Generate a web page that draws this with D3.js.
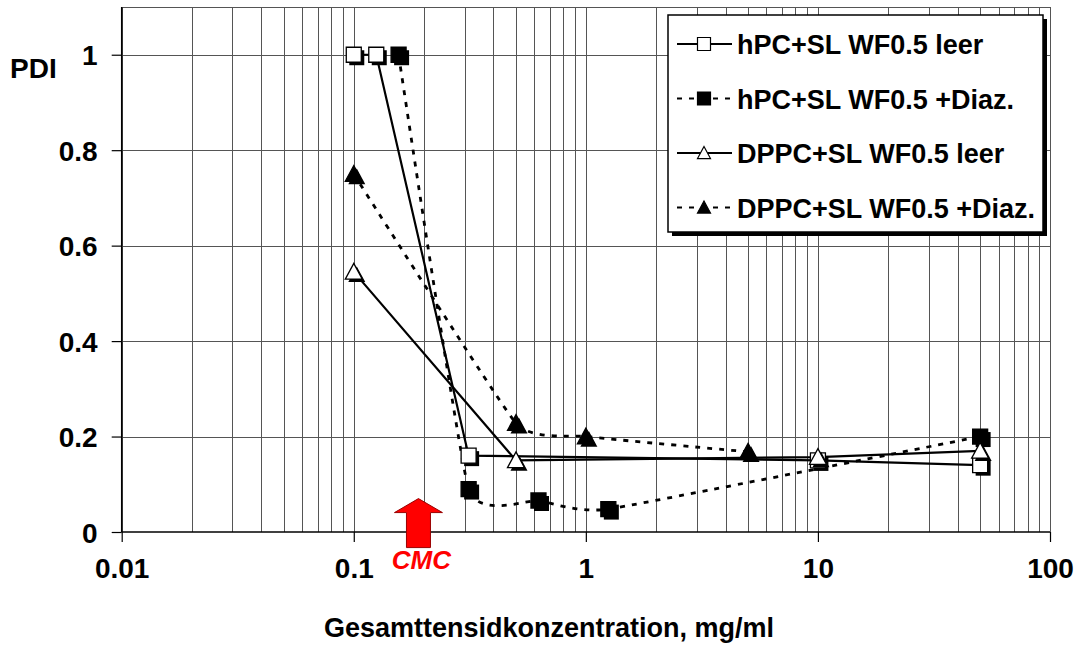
<!DOCTYPE html>
<html lang="de">
<head>
  <meta charset="UTF-8">
  <title>PDI vs Gesamttensidkonzentration</title>
  <script src="https://d3js.org/d3.v7.min.js"></script>
  <style>
    body {
      margin: 0;
      background: #fff;
    }
    svg text {
      font-family: "Liberation Sans", Arial, sans-serif;
      font-weight: bold;
      fill: #000;
    }
    .grid line {
      stroke: #555;
      stroke-width: 1;
      shape-rendering: crispEdges;
    }
  </style>
</head>
<body>
  <svg id="chart" width="1083" height="648"></svg>

  <script>
    // series: x = Gesamttensidkonzentration (mg/ml), y = PDI
    const hpcLeerX = [0.1, 0.125, 0.3125, 10, 50];
    const hpcLeerY = [1.0, 1.0, 0.16, 0.15, 0.14];
    const hpcDiazX = [0.156, 0.3125, 0.625, 1.25, 50];
    const hpcDiazY = [1.0, 0.09, 0.066, 0.048, 0.2];
    const dppcLeerX = [0.1, 0.5, 10, 50];
    const dppcLeerY = [0.545, 0.15, 0.157, 0.17];
    const dppcDiazX = [0.1, 0.5, 1, 5];
    const dppcDiazY = [0.75, 0.228, 0.2, 0.168];

    const seriesNames = ["hPC+SL WF0.5 leer", "hPC+SL WF0.5 +Diaz.", "DPPC+SL WF0.5 leer", "DPPC+SL WF0.5 +Diaz."];
    const xTicks = [0.01, 0.1, 1, 10, 100];
    const xTickLabels = ["0.01", "0.1", "1", "10", "100"];
    const yTicks = [0, 0.2, 0.4, 0.6, 0.8, 1];
    const yTickLabels = ["0", "0.2", "0.4", "0.6", "0.8", "1"];
    const cmcValue = 0.19;

    const series = [
      { name: seriesNames[0], xs: hpcLeerX, ys: hpcLeerY, marker: "square", fill: "#fff", dashed: false },
      { name: seriesNames[1], xs: hpcDiazX, ys: hpcDiazY, marker: "square", fill: "#000", dashed: true },
      { name: seriesNames[2], xs: dppcLeerX, ys: dppcLeerY, marker: "triangle", fill: "#fff", dashed: false },
      { name: seriesNames[3], xs: dppcDiazX, ys: dppcDiazY, marker: "triangle", fill: "#000", dashed: true }
    ];

    const plotLeft = 121.7, plotRight = 1050, plotTop = 7, plotBottom = 532;
    const svg = d3.select("#chart");

    const x = d3.scaleLog().domain([0.01, 100]).range([plotLeft, plotRight]);
    const y = d3.scaleLinear().domain([0, 1.1]).range([plotBottom, plotTop]);

    // grid
    const grid = svg.append("g").attr("class", "grid");
    const minor = [];
    [0.01, 0.1, 1, 10].forEach(d => { for (let k = 1; k <= 9; k++) minor.push(d * k); });
    minor.push(100);
    grid.selectAll(".v").data(minor).join("line")
      .attr("x1", d => Math.round(x(d)) + 0.5).attr("x2", d => Math.round(x(d)) + 0.5)
      .attr("y1", plotTop).attr("y2", plotBottom);
    grid.selectAll(".h").data([0.2, 0.4, 0.6, 0.8, 1, 1.1]).join("line")
      .attr("x1", plotLeft).attr("x2", plotRight)
      .attr("y1", d => Math.round(y(d)) + 0.5).attr("y2", d => Math.round(y(d)) + 0.5);

    // axes
    const yAxis = svg.append("g")
      .attr("transform", `translate(${plotLeft},0)`)
      .call(d3.axisLeft(y).tickValues(yTicks).tickSize(10).tickFormat((d, i) => yTickLabels[i]).tickPadding(14));
    yAxis.select(".domain").attr("stroke", "#000").attr("stroke-width", 1.5).attr("d", `M0,${plotTop}V${plotBottom}`);
    yAxis.selectAll(".tick line").attr("stroke", "#000").attr("stroke-width", 1.2);
    yAxis.selectAll(".tick text").attr("font-size", 28).attr("font-family", null).attr("dy", "0.36em");

    const xAxis = svg.append("g")
      .attr("transform", `translate(0,${plotBottom})`)
      .call(d3.axisBottom(x).tickValues(xTicks).tickSize(10).tickFormat((d, i) => xTickLabels[i]).tickPadding(16));
    xAxis.select(".domain").attr("stroke", "#000").attr("stroke-width", 1.5).attr("d", `M${plotLeft},0H${plotRight}`);
    xAxis.selectAll(".tick line").attr("stroke", "#000").attr("stroke-width", 1.2);
    xAxis.selectAll(".tick text").attr("font-size", 28).attr("font-family", null).attr("dy", "0.71em");

    svg.append("text").attr("x", 10).attr("y", 78).attr("font-size", 28).text("PDI");
    svg.append("text").attr("x", 549).attr("y", 637).attr("font-size", 27)
      .attr("text-anchor", "middle").text("Gesamttensidkonzentration, mg/ml");

    // lines: solid series straight, dotted series lightly smoothed
    const lineSolid = d3.line().x(d => x(d[0])).y(d => y(d[1]));
    const lineSmooth = d3.line().x(d => x(d[0])).y(d => y(d[1])).curve(d3.curveCardinal.tension(0.6));

    series.forEach(s => {
      const pts = s.xs.map((v, i) => [v, s.ys[i]]);
      svg.append("path")
        .attr("d", (s.dashed ? lineSmooth : lineSolid)(pts))
        .attr("fill", "none")
        .attr("stroke", "#000")
        .attr("stroke-width", s.dashed ? 2.8 : 2.2)
        .attr("stroke-dasharray", s.dashed ? "5,7" : null);
    });

    function markerPath(type, size) {
      const h = size / 2;
      if (type === "square") return `M${-h},${-h}H${h}V${h}H${-h}Z`;
      return `M0,${-h}L${h},${h * 0.85}L${-h},${h * 0.85}Z`;
    }

    series.forEach(s => {
      const g = svg.append("g");
      const pts = s.xs.map((v, i) => [v, s.ys[i]]);
      const size = s.marker === "square" ? 15 : 17;
      g.selectAll(".shadow").data(pts).join("path")
        .attr("transform", d => `translate(${x(d[0]) + 3},${y(d[1]) + 3})`)
        .attr("d", markerPath(s.marker, size))
        .attr("fill", "#000");
      g.selectAll(".mk").data(pts).join("path")
        .attr("transform", d => `translate(${x(d[0])},${y(d[1])})`)
        .attr("d", markerPath(s.marker, size))
        .attr("fill", s.fill)
        .attr("stroke", "#000")
        .attr("stroke-width", 1.3);
    });

    // CMC arrow
    const ax = x(cmcValue), ay = y(0.07);
    svg.append("path")
      .attr("d", `M${ax},${ay}L${ax + 24},${ay + 14}H${ax + 12}V${ay + 49}H${ax - 12}V${ay + 14}H${ax - 24}Z`)
      .attr("fill", "#ff0000")
      .attr("stroke", "#990000")
      .attr("stroke-width", 1);
    svg.append("text").attr("x", ax + 3).attr("y", 569).attr("font-size", 26)
      .attr("font-style", "italic").attr("text-anchor", "middle")
      .style("fill", "#ff0000").text("CMC");

    // legend
    const lx = 668, ly = 15, lw = 375, lh = 217;
    svg.append("rect").attr("x", lx + 4).attr("y", ly + 4).attr("width", lw).attr("height", lh).attr("fill", "#000");
    svg.append("rect").attr("x", lx).attr("y", ly).attr("width", lw).attr("height", lh)
      .attr("fill", "#fff").attr("stroke", "#000").attr("stroke-width", 1.5);

    series.forEach((s, i) => {
      const cy = 44 + i * 54.5;
      svg.append("line")
        .attr("x1", lx + 9).attr("x2", lx + 64).attr("y1", cy).attr("y2", cy)
        .attr("stroke", "#000").attr("stroke-width", 2.2)
        .attr("stroke-dasharray", s.dashed ? "5,7" : null);
      svg.append("path")
        .attr("transform", `translate(${lx + 36},${cy})`)
        .attr("d", markerPath(s.marker, 13))
        .attr("fill", s.fill).attr("stroke", "#000").attr("stroke-width", 1.2);
      svg.append("text").attr("x", lx + 69).attr("y", cy + 10).attr("font-size", 27).text(s.name);
    });
  </script>
</body>
</html>
